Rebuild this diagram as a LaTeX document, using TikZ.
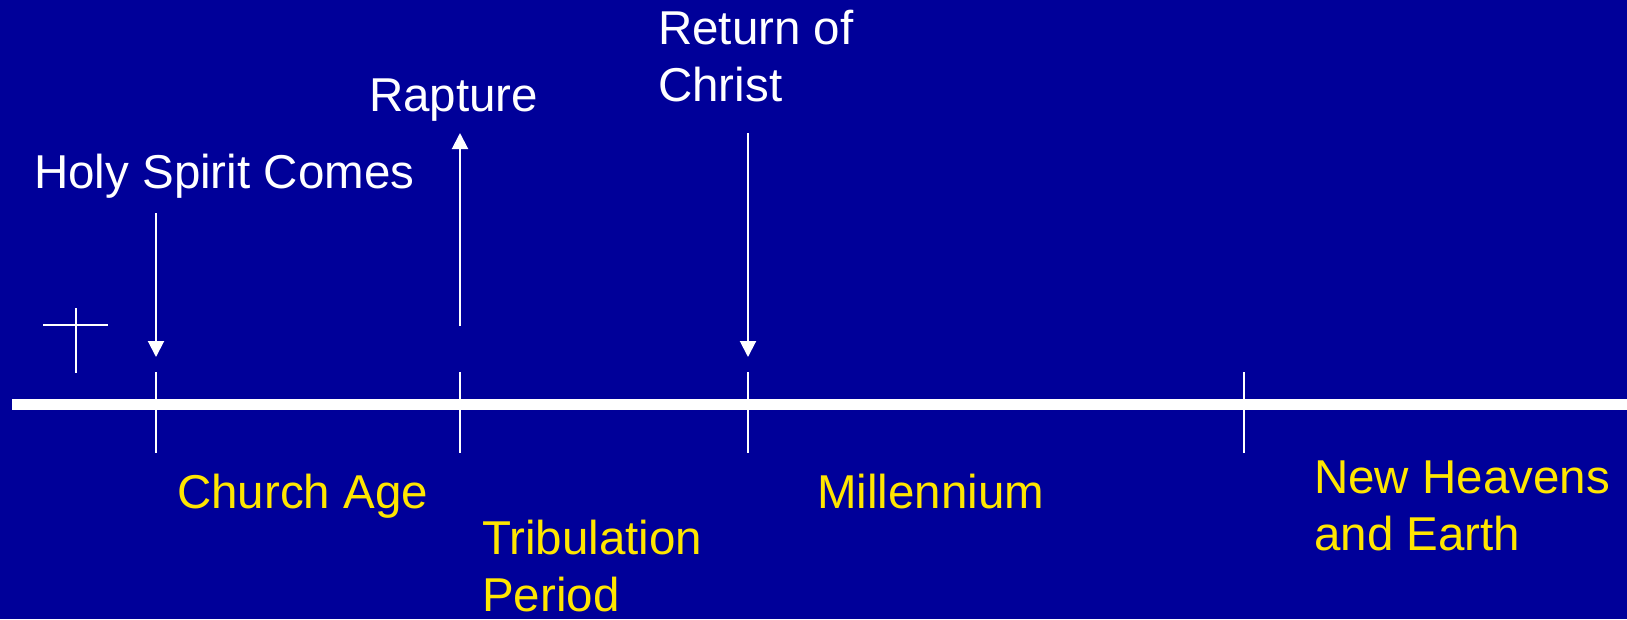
\documentclass[tikz,border=0pt]{standalone}
\usepackage{fontspec}
\setmainfont{Liberation Sans}
\usetikzlibrary{arrows.meta}
\definecolor{bgblue}{RGB}{0,0,153}
\definecolor{lblyellow}{RGB}{255,230,0}
\tikzset{
  evt/.style={text=white, anchor=base west, inner sep=0pt, align=left, font=\fontsize{47.5}{57}\selectfont},
  era/.style={text=lblyellow, anchor=base west, inner sep=0pt, align=left, font=\fontsize{47.5}{57}\selectfont},
  thin/.style={draw=white, line width=2pt},
  arr/.style={draw=white, line width=2pt, -{Triangle[width=16pt,length=16pt]}},
  axis/.style={draw=white, line width=11pt}
}
\begin{document}
\begin{tikzpicture}[x=1pt,y=-1pt]
\fill[bgblue] (0,0) rectangle (1627,619);
\useasboundingbox (0,0) rectangle (1627,619);
% timeline
\coordinate (tl0) at (12,404.5);
\coordinate (tl1) at (1627,404.5);
\draw[axis] (tl0) -- (tl1);
% ticks
\foreach \n/\x in {t1/156,t2/460,t3/748,t4/1244}{
  \coordinate (\n a) at (\x,372);
  \coordinate (\n b) at (\x,453);
  \draw[thin] (\n a) -- (\n b);
}
% cross
\coordinate (ch0) at (43,325); \coordinate (ch1) at (108,325);
\coordinate (cv0) at (76,308); \coordinate (cv1) at (76,373);
\draw[thin] (ch0) -- (ch1);
\draw[thin] (cv0) -- (cv1);
% arrows
\coordinate (a1s) at (156,213); \coordinate (a1e) at (156,357);
\coordinate (a2s) at (460,326); \coordinate (a2e) at (460,133);
\coordinate (a3s) at (748,133); \coordinate (a3e) at (748,357);
\draw[arr] (a1s) -- (a1e);
\draw[arr] (a2s) -- (a2e);
\draw[arr] (a3s) -- (a3e);
% event labels (base anchor = last line's baseline)
\node[evt] (holy) at (34,188) {Holy Spirit Comes};
\node[evt] (rapt) at (369,111) {Rapture};
\node[evt] (ret) at (658,101) {Return of\\Christ};
% era labels
\node[era] (church) at (177,508) {Church Age};
\node[era] (trib) at (482,611) {Tribulation\\Period};
\node[era] (mill) at (817,508) {Millennium};
\node[era] (newh) at (1314,550) {New Heavens\\and Earth};
\end{tikzpicture}
\end{document}
